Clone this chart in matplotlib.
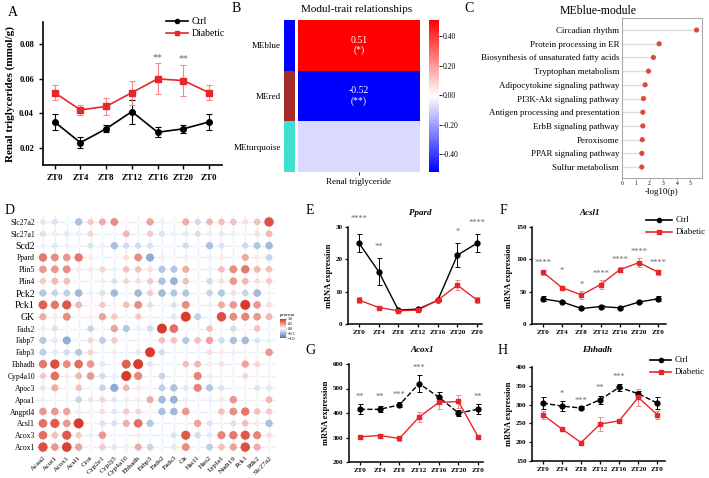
import numpy as np
import matplotlib
matplotlib.use('Agg')
import matplotlib.pyplot as plt
from matplotlib.colors import LinearSegmentedColormap, Normalize, ListedColormap
from matplotlib.lines import Line2D

W, H = 709, 478
SERIF = ['Liberation Serif', 'DejaVu Serif']
plt.rcParams['font.family'] = SERIF

# ---------------- data ----------------
zt = ['ZT0', 'ZT4', 'ZT8', 'ZT12', 'ZT16', 'ZT20', 'ZT0']

# Panel A: renal triglycerides
tg_ctrl = [0.035, 0.023, 0.031, 0.041, 0.029, 0.031, 0.035]
tg_ctrl_err = [0.0045, 0.003, 0.002, 0.007, 0.003, 0.0025, 0.0045]
tg_diab = [0.052, 0.042, 0.044, 0.052, 0.060, 0.059, 0.052]
tg_diab_err = [0.0045, 0.003, 0.005, 0.007, 0.009, 0.009, 0.0045]
tg_stars = [(4, '**'), (5, '**')]

# Panel B: module-trait
modules = ['MEblue', 'MEred', 'MEturquoise']
module_colors = ['#0000FF', '#A52A2A', '#40E0D0']
module_corr = [0.51, -0.52, -0.08]
module_text = ['0.51\n(*)', '-0.52\n(**)', '']

# Panel C: MEblue-module enrichment
pathways = ['Circadian rhythm', 'Protein processing in ER',
            'Biosynthesis of unsaturated fatty acids', 'Tryptophan metabolism',
            'Adipocytokine signaling pathway', 'PI3K-Akt signaling pathway',
            'Antigen processing and presentation', 'ErbB signaling pathway',
            'Peroxisome', 'PPAR signaling pathway', 'Sulfur metabolism']
neglogp = [5.45, 2.7, 2.28, 1.92, 1.67, 1.55, 1.5, 1.5, 1.46, 1.43, 1.42]

# Panel D: correlation dot matrix
d_rows = ['Slc27a2', 'Slc27a1', 'Scd2', 'Ppard', 'Plin5', 'Plin4', 'Pck2', 'Pck1',
          'GK', 'Fads2', 'Fabp7', 'Fabp3', 'Ehhadh', 'Cyp4a10', 'Apoc3', 'Apoa1',
          'Angptl4', 'Acsl1', 'Acox3', 'Acox1']
d_cols = ['Acaa2', 'Acot1', 'Acox1', 'Acsl1', 'Crot', 'Cyp2e1', 'Cyp2j5', 'Cyp4a10',
          'Ehhadh', 'Fabp3', 'Fads2', 'Fads3', 'Gk', 'Hacl1', 'Hao2', 'Lypla1',
          'Nudt19', 'Pck1', 'Pdk2', 'Slc27a2']
corr = [
    [-0.15, -0.2, -0.05, -0.45, 0.25, 0.4, 0.55, 0.05, -0.05, 0.45, -0.1, -0.05, 0.4, -0.25, 0.35, 0.3, 0.3, 0.15, 0.3, 0.85],
    [-0.2, 0.1, -0.15, -0.1, 0.2, -0.05, -0.05, 0.35, -0.05, 0.25, -0.2, -0.1, -0.15, 0.2, 0.1, -0.15, -0.1, -0.05, 0.15, 0.35],
    [-0.1, -0.15, -0.1, 0.05, -0.2, -0.1, -0.45, -0.25, -0.25, -0.2, -0.05, -0.05, -0.25, -0.05, -0.45, -0.2, -0.05, -0.25, -0.4, -0.5],
    [0.65, 0.55, 0.5, 0.65, 0.1, -0.05, -0.05, 0.15, 0.55, -0.6, 0.1, -0.05, 0.1, -0.05, -0.1, 0.1, -0.05, 0.4, 0.1, -0.3],
    [0.5, 0.5, 0.55, 0.1, 0.1, 0.2, -0.1, 0.3, 0.3, 0.15, -0.4, -0.4, 0.4, -0.05, -0.1, 0.3, 0.55, 0.65, 0.35, 0.3],
    [0.25, 0.35, 0.3, 0.05, 0.05, 0.1, -0.2, 0.2, 0.15, 0.25, -0.45, -0.55, 0.3, -0.05, -0.25, 0.15, 0.5, 0.35, 0.15, 0.25],
    [-0.4, -0.3, -0.35, -0.5, -0.1, -0.2, -0.5, -0.05, -0.5, 0.25, -0.5, -0.4, -0.4, -0.05, -0.3, -0.4, 0.15, -0.3, -0.5, -0.05],
    [0.75, 0.65, 0.8, 0.35, 0.05, 0.25, 0.05, 0.3, 0.55, -0.2, -0.05, -0.2, 0.55, -0.05, -0.1, 0.4, 0.5, 0.95, 0.5, 0.15],
    [0.4, 0.1, 0.55, 0.05, 0.05, 0.45, 0.25, -0.05, 0.25, 0.05, -0.05, -0.15, 0.95, -0.35, -0.05, 0.85, 0.55, 0.6, 0.5, 0.35],
    [-0.1, -0.2, -0.05, 0.05, -0.3, -0.05, 0.45, -0.4, -0.1, -0.25, 0.95, 0.7, -0.05, -0.05, 0.3, 0.05, -0.25, -0.05, 0.3, -0.05],
    [-0.4, -0.15, -0.6, -0.05, 0.2, -0.35, 0.25, -0.05, 0.05, -0.05, 0.3, 0.3, -0.4, 0.3, 0.45, -0.25, -0.45, -0.5, -0.2, -0.1],
    [-0.35, -0.15, -0.25, -0.4, 0.2, -0.05, 0.1, -0.05, -0.15, 0.95, -0.25, -0.05, 0.05, -0.05, 0.15, 0.1, -0.1, 0.05, -0.05, 0.5],
    [0.65, 0.85, 0.55, 0.7, 0.5, -0.15, -0.05, 0.75, 0.95, -0.15, -0.05, -0.05, 0.3, 0.35, 0.1, 0.15, -0.05, 0.45, 0.2, -0.05],
    [0.25, 0.7, 0.1, 0.35, 0.5, -0.25, -0.1, 0.95, 0.6, 0.05, -0.3, -0.05, -0.05, 0.6, 0.1, -0.05, -0.05, 0.2, -0.05, -0.05],
    [0.15, 0.4, 0.05, 0.3, -0.05, -0.3, -0.6, 0.35, 0.1, -0.05, -0.35, -0.45, -0.15, 0.6, -0.4, -0.2, -0.05, -0.05, -0.2, -0.15],
    [-0.1, -0.05, -0.05, -0.3, 0.15, 0.2, -0.15, 0.1, 0.1, 0.4, -0.5, -0.55, 0.1, -0.05, -0.1, 0.1, 0.5, -0.05, -0.05, 0.35],
    [0.5, 0.5, 0.45, 0.1, 0.05, 0.15, -0.15, 0.25, 0.2, 0.05, -0.45, -0.5, 0.5, -0.05, -0.05, 0.3, 0.55, 0.65, 0.3, 0.25],
    [0.7, 0.8, 0.5, 0.95, 0.05, -0.2, -0.2, 0.4, 0.7, -0.4, -0.05, -0.05, -0.05, 0.45, -0.2, -0.05, -0.2, 0.3, 0.1, -0.45],
    [0.7, 0.3, 0.8, 0.25, -0.1, 0.5, -0.05, -0.05, 0.1, -0.05, -0.05, -0.2, 0.8, -0.25, -0.15, 0.6, 0.65, 0.8, 0.6, 0.15],
    [0.85, 0.5, 0.9, 0.45, 0.05, 0.25, -0.15, 0.1, 0.4, -0.3, -0.05, -0.15, 0.55, -0.05, -0.35, 0.3, 0.45, 0.85, 0.4, 0.05],
]

# Panels E-H: mRNA expression
ppard_ctrl = [25.0, 16.2, 4.3, 4.6, 7.3, 21.3, 25.0]
ppard_ctrl_err = [2.8, 4.2, 0.3, 0.3, 0.3, 3.6, 2.8]
ppard_diab = [7.4, 5.1, 4.1, 4.3, 7.4, 12.0, 7.4]
ppard_diab_err = [0.9, 0.4, 0.3, 0.3, 0.3, 1.6, 0.9]
ppard_stars = [(0, 32.5, '****'), (1, 23.7, '**'), (5, 28.4, '*'), (6, 31.2, '****')]

acsl1_ctrl = [39, 34, 24, 27, 25, 34, 39]
acsl1_ctrl_err = [4, 2, 1.5, 2, 1.5, 2, 4]
acsl1_diab = [80, 56, 45, 61, 84, 95, 80]
acsl1_diab_err = [4, 3, 6, 7, 4, 7, 4]
acsl1_stars = [(0, 94, '****'), (1, 82, '*'), (2, 60, '*'), (3, 77, '****'),
               (4, 99, '****'), (5, 111, '****'), (6, 94, '****')]

acox1_ctrl = [415, 415, 433, 520, 465, 400, 415]
acox1_ctrl_err = [20, 12, 10, 35, 20, 12, 20]
acox1_diab = [303, 308, 296, 383, 443, 447, 303]
acox1_diab_err = [8, 8, 12, 20, 25, 25, 8]
acox1_stars = [(0, 465, '**'), (1, 465, '**'), (2, 473, '***'), (3, 584, '***'), (6, 465, '**')]

ehhadh_ctrl = [304, 296, 291, 313, 346, 329, 304]
ehhadh_ctrl_err = [15, 14, 4, 11, 10, 8, 15]
ehhadh_diab = [273, 235, 199, 248, 257, 319, 273]
ehhadh_diab_err = [10, 4, 3, 18, 5, 22, 10]
ehhadh_stars = [(1, 328, '*'), (2, 310, '***'), (3, 344, '**'), (4, 373, '***')]

RED = '#E8262A'
RED_ERR = '#F08A8A'
STAR = '#666666'

fig = plt.figure(figsize=(W / 100, H / 100), dpi=100)


def axpx(l, t, r, b):
    return fig.add_axes([l / W, 1 - b / H, (r - l) / W, (b - t) / H])


def ptxt(x, y, s, **kw):
    return fig.text(x / W, 1 - y / H, s, **kw)


def legend_px(x0, x1, xt, y, label, color, marker, ms, fs):
    fig.add_artist(Line2D([x0 / W, x1 / W], [1 - y / H, 1 - y / H], color=color, lw=1.2,
                          transform=fig.transFigure))
    fig.add_artist(Line2D([(x0 + x1) / 2 / W], [1 - y / H], color=color, marker=marker, ms=ms,
                          transform=fig.transFigure))
    ptxt(xt, y, label, ha='left', va='center', fontsize=fs)


# ---------------- Panel A ----------------
ptxt(8, 13, 'A', fontsize=10, ha='left', va='center')
axA = axpx(43, 22, 222, 165)
x = np.arange(len(zt))
axA.errorbar(x, tg_ctrl, yerr=tg_ctrl_err, color='black', marker='o', ms=4, lw=1.2,
             capsize=2, elinewidth=0.8, capthick=0.8, zorder=3)
axA.errorbar(x, tg_diab, yerr=tg_diab_err, color=RED, marker='s', ms=4.5, lw=1.2,
             ecolor=RED_ERR, capsize=2, elinewidth=0.8, capthick=0.8, zorder=3)
for i, s in tg_stars:
    axA.text(i, tg_diab[i] + tg_diab_err[i] + 0.0035, s, ha='center', va='center',
             fontsize=7, color=STAR)
axA.set_xlim(-0.45, 6.5)
axA.set_ylim(0.01, 0.093)
axA.set_yticks([0.02, 0.04, 0.06, 0.08])
axA.set_yticklabels(['0.02', '0.04', '0.06', '0.08'], fontsize=6, fontweight='bold')
axA.set_xticks(x)
axA.set_xticklabels(zt, fontsize=6.5, fontweight='bold')
for sp in ['top', 'right']:
    axA.spines[sp].set_visible(False)
for sp in ['left', 'bottom']:
    axA.spines[sp].set_linewidth(1.2)
axA.tick_params(width=1, length=3)
axA.set_ylabel('Renal triglycerides (mmol/g)', fontsize=8, fontweight='bold', labelpad=3)
legend_px(166, 188, 192, 21, 'Ctrl', 'black', 'o', 3, 7)
legend_px(166, 188, 192, 33, 'Diabetic', RED, 's', 3.5, 7)

# ---------------- Panel B ----------------
ptxt(232, 9, 'B', fontsize=10, ha='left', va='center')
ptxt(357, 10, 'Modul-trait relationships', fontsize=8, ha='center', va='center')
axB = axpx(298, 20, 420, 172)
norm = Normalize(vmin=-0.52, vmax=0.51)
im = axB.imshow(np.array(module_corr).reshape(-1, 1), cmap='bwr', norm=norm, aspect='auto')
for i, t in enumerate(module_text):
    if t:
        axB.text(0, i, t, ha='center', va='center', color='white', fontsize=7,
                 linespacing=1.1)
axB.set_yticks([])
axB.set_xticks([0])
axB.set_xticklabels(['Renal triglyceride'], fontsize=6.5)
axB.tick_params(axis='x', length=2, width=0.6, pad=2)
for sp in axB.spines.values():
    sp.set_visible(False)
axS = axpx(284, 20, 295, 172)
axS.imshow(np.arange(len(modules)).reshape(-1, 1), cmap=ListedColormap(module_colors),
           aspect='auto')
axS.set_xticks([])
axS.set_yticks(range(len(modules)))
axS.set_yticklabels(modules, fontsize=6.5)
axS.tick_params(axis='y', length=0, pad=2)
for sp in axS.spines.values():
    sp.set_visible(False)
caxB = axpx(429, 20, 439, 172)
cbB = fig.colorbar(im, cax=caxB)
cbB.set_ticks([0.4, 0.2, 0.0, -0.2, -0.4])
cbB.set_ticklabels(['0.40', '0.20', '0.00', '-0.20', '-0.40'])
cbB.ax.tick_params(labelsize=5.5, length=2, width=0.6, pad=1)
cbB.outline.set_visible(False)

# ---------------- Panel C ----------------
ptxt(464, 9, 'C', fontsize=10, ha='left', va='center')
ptxt(598, 11, 'MEblue-module', fontsize=8.5, ha='center', va='center')
axC = axpx(622, 18, 702, 178)
yc = np.arange(len(pathways))[::-1]
axC.hlines(yc, 0, neglogp, color='#DDDDDD', lw=1, zorder=1)
axC.scatter(neglogp, yc, color='#E0493A', s=14, zorder=3, edgecolors='none')
axC.set_xlim(-0.03, 5.85)
axC.set_ylim(-0.8, len(pathways) - 1 + 0.88)
axC.set_yticks(yc)
axC.set_yticklabels(pathways, fontsize=6.4)
axC.set_xticks([0, 1, 2, 3, 4, 5])
axC.tick_params(axis='x', labelsize=4, length=1.5, width=0.5, pad=1, color='#888888')
axC.tick_params(axis='y', length=0, pad=2)
for sp in axC.spines.values():
    sp.set_color('#AAAAAA')
    sp.set_linewidth(0.8)
axC.set_xlabel('-log10(p)', fontsize=6.5, labelpad=1)

# ---------------- Panel D ----------------
ptxt(5, 210, 'D', fontsize=10, ha='left', va='center')
axD = axpx(37, 216, 275, 453)
cmapD = LinearSegmentedColormap.from_list('pearson', ['#4575B4', '#FFFFFF', '#D7301F'])
C = np.array(corr)
nr, nc = C.shape
cx, ry = np.meshgrid(np.arange(nc), np.arange(nr))
sizes = (0.72 * (5.0 + 5.2 * np.abs(C))) ** 2
sc = axD.scatter(cx.ravel(), ry.ravel(), s=sizes.ravel(), c=C.ravel(), cmap=cmapD,
                 vmin=-1, vmax=1, edgecolors='none', zorder=3)
axD.set_xlim(-0.5, nc - 0.5)
axD.set_ylim(nr - 0.5, -0.5)
axD.set_xticks(range(nc))
axD.set_yticks(range(nr))
axD.set_xticklabels(d_cols, rotation=45, ha='right', va='top', rotation_mode='anchor',
                    fontsize=5.3)
axD.set_yticklabels(d_rows, fontsize=5.5)
for lab in axD.get_yticklabels():
    if lab.get_text() in ('Scd2', 'Pck2', 'Pck1', 'GK'):
        lab.set_fontsize(7)
axD.tick_params(length=0, pad=1.5)
axD.grid(True, color='#E6EDF6', lw=0.8, zorder=0)
axD.set_axisbelow(True)
for sp in axD.spines.values():
    sp.set_visible(False)
caxD = axpx(280, 319, 286, 338)
cbD = fig.colorbar(sc, cax=caxD)
cbD.set_ticks([1.0, 0.5, 0.0, -0.5, -1.0])
cbD.ax.tick_params(labelsize=3, length=1, width=0.3, pad=0.5)
cbD.outline.set_visible(False)
ptxt(280, 315, 'pearson', fontsize=3.5, ha='left', va='center')


# ---------------- Panels E-H ----------------
def gene_panel(rect, xr, ctrl, cerr, diab, derr, ylim, yticks, stars, dashed):
    ax = axpx(*rect)
    ax.errorbar(x, ctrl, yerr=cerr, color='black', marker='o', ms=3.5, lw=1,
                ls='--' if dashed else '-', capsize=1.8, elinewidth=0.7, capthick=0.7,
                zorder=3)
    ax.errorbar(x, diab, yerr=derr, color=RED, marker='s', ms=3.5, lw=1,
                ecolor=RED_ERR, capsize=1.8, elinewidth=0.7, capthick=0.7, zorder=3)
    for i, yv, s in stars:
        ax.text(i, yv, s, ha='center', va='center', fontsize=6, color=STAR)
    ax.set_xlim(*xr)
    ax.set_ylim(*ylim)
    ax.set_yticks(yticks)
    ax.set_yticklabels([str(v) for v in yticks], fontsize=5, fontweight='bold')
    ax.set_xticks(x)
    ax.set_xticklabels(zt, fontsize=5, fontweight='bold')
    for sp in ['top', 'right']:
        ax.spines[sp].set_visible(False)
    for sp in ['left', 'bottom']:
        ax.spines[sp].set_linewidth(1.1)
    ax.tick_params(width=0.9, length=2.5, pad=1.5)
    ax.set_ylabel('mRNA expression', fontsize=6, fontweight='bold', labelpad=2)
    return ax


ptxt(310, 210, 'E', fontsize=10, ha='center', va='center')
ptxt(420, 213, 'Ppard', fontsize=6.5, fontweight='bold', style='italic', ha='center', va='center')
gene_panel((348, 227, 482, 324), (-0.56, 6.25), ppard_ctrl, ppard_ctrl_err, ppard_diab,
           ppard_diab_err, (0, 30), [0, 10, 20, 30], ppard_stars, False)

ptxt(503, 210, 'F', fontsize=10, ha='center', va='center')
ptxt(590, 213, 'Acsl1', fontsize=6.5, fontweight='bold', style='italic', ha='center', va='center')
gene_panel((532, 227, 666, 324), (-0.57, 6.4), acsl1_ctrl, acsl1_ctrl_err, acsl1_diab,
           acsl1_diab_err, (0, 150), [0, 50, 100, 150], acsl1_stars, False)
legend_px(646, 672, 676, 220, 'Ctrl', 'black', 'o', 3, 6.3)
legend_px(646, 672, 676, 232, 'Diabetic', RED, 's', 3.5, 6.3)

ptxt(310, 350, 'G', fontsize=10, ha='center', va='center')
ptxt(422, 350, 'Acox1', fontsize=6.5, fontweight='bold', style='italic', ha='center', va='center')
gene_panel((349, 364, 483, 462), (-0.56, 6.25), acox1_ctrl, acox1_ctrl_err, acox1_diab,
           acox1_diab_err, (200, 600), [200, 300, 400, 500, 600], acox1_stars, True)

ptxt(503, 350, 'H', fontsize=10, ha='center', va='center')
ptxt(597, 350, 'Ehhadh', fontsize=6.5, fontweight='bold', style='italic', ha='center', va='center')
gene_panel((532, 367, 665, 461), (-0.57, 6.4), ehhadh_ctrl, ehhadh_ctrl_err, ehhadh_diab,
           ehhadh_diab_err, (150, 400), [150, 200, 250, 300, 350, 400], ehhadh_stars, True)
legend_px(650, 671, 675, 360, 'Ctrl', 'black', 'o', 3, 6.3)
legend_px(650, 671, 675, 372, 'Diabetic', RED, 's', 3.5, 6.3)

fig.savefig('out.png', dpi=100)
